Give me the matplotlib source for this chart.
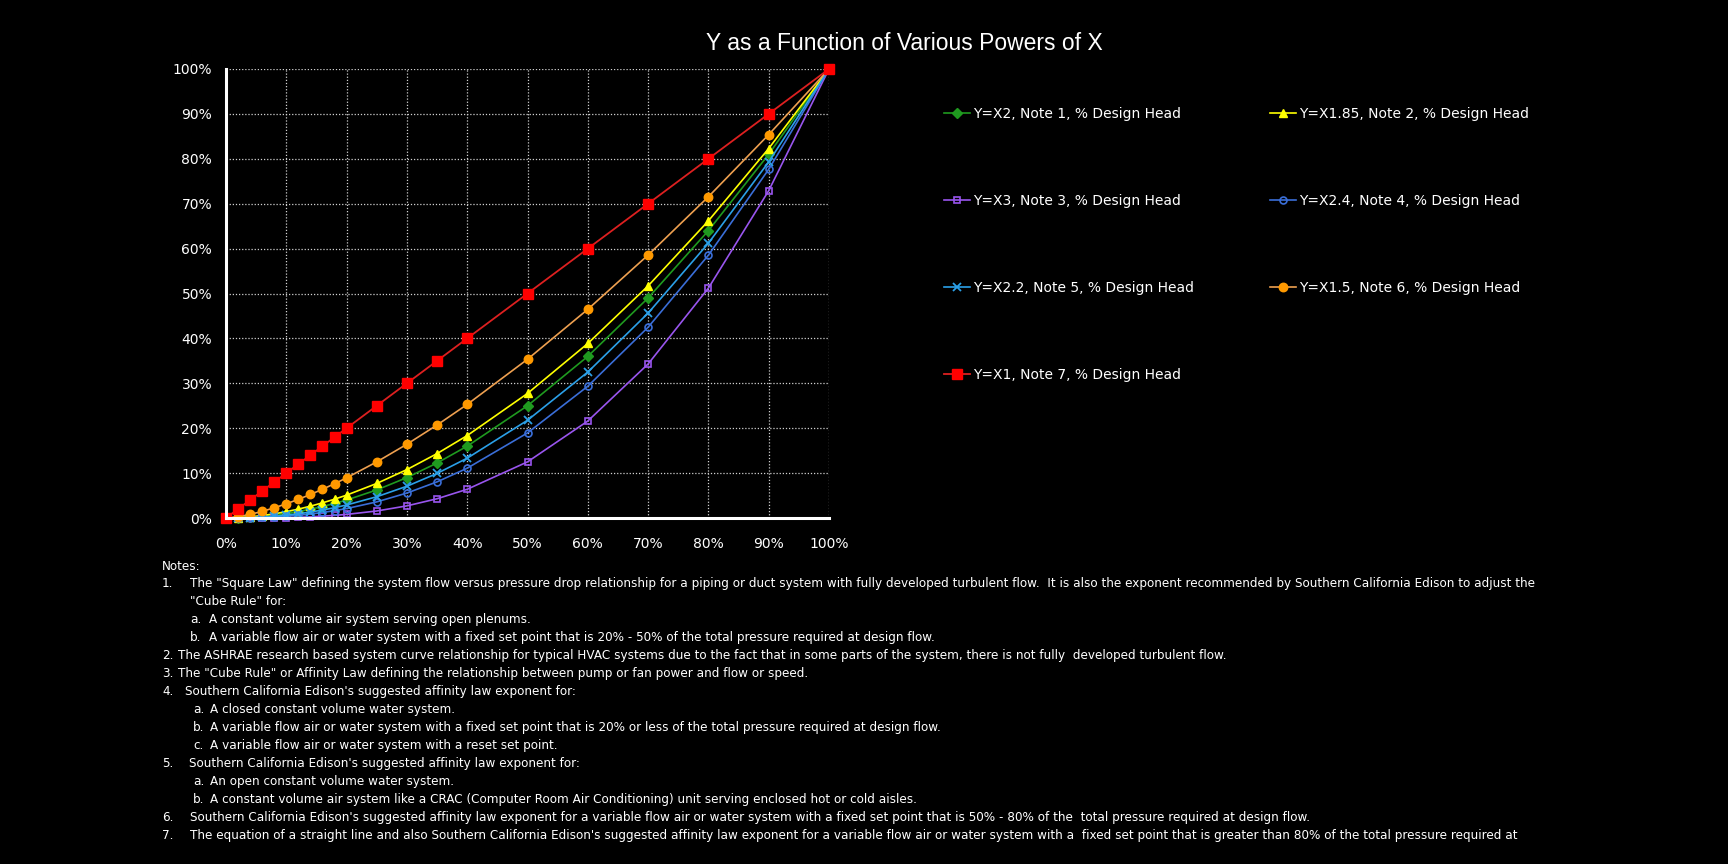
import matplotlib
matplotlib.use("Agg")
import matplotlib.pyplot as plt
from matplotlib.ticker import PercentFormatter

# ---------------- data ----------------
flow = [0.00, 0.02, 0.04, 0.06, 0.08, 0.10, 0.12, 0.14, 0.16, 0.18, 0.20,
        0.25, 0.30, 0.35, 0.40, 0.50, 0.60, 0.70, 0.80, 0.90, 1.00]

y_x2 = [0.0, 0.0004, 0.0016, 0.0036, 0.0064, 0.0100, 0.0144, 0.0196, 0.0256, 0.0324, 0.0400,
        0.0625, 0.0900, 0.1225, 0.1600, 0.2500, 0.3600, 0.4900, 0.6400, 0.8100, 1.0]
y_x185 = [0.0, 0.00072, 0.00259, 0.00549, 0.00935, 0.01413, 0.01979, 0.02632, 0.03370, 0.04190, 0.05092,
          0.07694, 0.10782, 0.14342, 0.18358, 0.27738, 0.38868, 0.51692, 0.66182, 0.82290, 1.0]
y_x3 = [0.0, 0.000008, 0.000064, 0.000216, 0.000512, 0.001, 0.001728, 0.002744, 0.004096, 0.005832, 0.008,
        0.015625, 0.027, 0.042875, 0.064, 0.125, 0.216, 0.343, 0.512, 0.729, 1.0]
y_x24 = [0.0, 0.0000837, 0.000442, 0.001169, 0.002331, 0.003981, 0.006165, 0.008929, 0.012299, 0.016318, 0.021012,
         0.035897, 0.05561, 0.08049, 0.11090, 0.18946, 0.29346, 0.42486, 0.58535, 0.77656, 1.0]
y_x22 = [0.0, 0.000183, 0.000840, 0.002050, 0.003861, 0.006310, 0.009423, 0.013230, 0.017746, 0.02299, 0.02899,
         0.04737, 0.07074, 0.09929, 0.13320, 0.21764, 0.32503, 0.45625, 0.61207, 0.79310, 1.0]
y_x15 = [0.0, 0.002828, 0.008, 0.014697, 0.022627, 0.031623, 0.041569, 0.052383, 0.064, 0.076368, 0.089443,
         0.125, 0.164317, 0.207063, 0.252982, 0.353553, 0.464758, 0.585662, 0.715542, 0.853815, 1.0]
y_x1 = [0.00, 0.02, 0.04, 0.06, 0.08, 0.10, 0.12, 0.14, 0.16, 0.18, 0.20,
        0.25, 0.30, 0.35, 0.40, 0.50, 0.60, 0.70, 0.80, 0.90, 1.00]

labels = ["Y=X2, Note 1, % Design Head",
          "Y=X1.85, Note 2, % Design Head",
          "Y=X3, Note 3, % Design Head",
          "Y=X2.4, Note 4, % Design Head",
          "Y=X2.2, Note 5, % Design Head",
          "Y=X1.5, Note 6, % Design Head",
          "Y=X1, Note 7, % Design Head"]

title = "Y as a Function of Various Powers of X"
tick_vals = [0.0, 0.1, 0.2, 0.3, 0.4, 0.5, 0.6, 0.7, 0.8, 0.9, 1.0]

notes = [
    ("", "Notes:", 162, None),
    ("1.", 'The "Square Law" defining the system flow versus pressure drop relationship for a piping or duct system with fully developed turbulent flow.  It is also the exponent recommended by Southern California Edison to adjust the', 162, 190),
    ("", '"Cube Rule" for:', None, 190),
    ("a.", "A constant volume air system serving open plenums.", 190, 209),
    ("b.", "A variable flow air or water system with a fixed set point that is 20% - 50% of the total pressure required at design flow.", 190, 209),
    ("2.", "The ASHRAE research based system curve relationship for typical HVAC systems due to the fact that in some parts of the system, there is not fully  developed turbulent flow.", 162, 178),
    ("3.", 'The "Cube Rule" or Affinity Law defining the relationship between pump or fan power and flow or speed.', 162, 178),
    ("4.", "Southern California Edison's suggested affinity law exponent for:", 162, 185),
    ("a.", "A closed constant volume water system.", 193, 210),
    ("b.", "A variable flow air or water system with a fixed set point that is 20% or less of the total pressure required at design flow.", 193, 210),
    ("c.", "A variable flow air or water system with a reset set point.", 193, 210),
    ("5.", "Southern California Edison's suggested affinity law exponent for:", 162, 189),
    ("a.", "An open constant volume water system.", 193, 210),
    ("b.", "A constant volume air system like a CRAC (Computer Room Air Conditioning) unit serving enclosed hot or cold aisles.", 193, 210),
    ("6.", "Southern California Edison's suggested affinity law exponent for a variable flow air or water system with a fixed set point that is 50% - 80% of the  total pressure required at design flow.", 162, 190),
    ("7.", "The equation of a straight line and also Southern California Edison's suggested affinity law exponent for a variable flow air or water system with a  fixed set point that is greater than 80% of the total pressure required at", 162, 190),
]

# ---------------- figure ----------------
W, H = 1728, 864
plt.rcParams["font.family"] = ["DejaVu Sans"]
fig = plt.figure(figsize=(W / 100, H / 100), dpi=100, facecolor="black")

L, R, T, B = 226, 829, 69, 518
ax = fig.add_axes([L / W, 1 - B / H, (R - L) / W, (B - T) / H], facecolor="black")
ax.set_xlim(0, 1)
ax.set_ylim(0, 1)
ax.set_xticks(tick_vals)
ax.set_yticks(tick_vals)
ax.xaxis.set_major_formatter(PercentFormatter(1.0, decimals=0))
ax.yaxis.set_major_formatter(PercentFormatter(1.0, decimals=0))
ax.tick_params(axis="both", length=0, colors="white", labelsize=10)
ax.tick_params(axis="y", pad=10)
ax.tick_params(axis="x", pad=14)
ax.grid(True, color="#d0d0d0", linestyle=(0, (1, 1.5)), linewidth=0.9)
ax.set_axisbelow(True)
for s in ("top", "right"):
    ax.spines[s].set_visible(False)
for s in ("left", "bottom"):
    ax.spines[s].set_color("white")
    ax.spines[s].set_linewidth(2.2)
    ax.spines[s].set_zorder(5)

ms = 4.8
h_x2, = ax.plot(flow, y_x2, color="#1f9a1f", marker="D", ms=ms - 0.2, mfc="#1f9a1f", mec="#1f9a1f", lw=1.2, clip_on=False, zorder=3)
h_x185, = ax.plot(flow, y_x185, color="#ffff00", marker="^", ms=ms + 1.2, mfc="#ffff00", mec="#ffff00", lw=1.2, clip_on=False, zorder=3)
h_x3, = ax.plot(flow, y_x3, color="#9955ee", marker="s", ms=ms + 0.2, mfc="none", mec="#9955ee", mew=1.2, lw=1.2, clip_on=False, zorder=3)
h_x24, = ax.plot(flow, y_x24, color="#3a6ed8", marker="o", ms=ms + 0.2, mfc="none", mec="#3a6ed8", mew=1.2, lw=1.2, clip_on=False, zorder=3)
h_x22, = ax.plot(flow, y_x22, color="#2ba0e8", marker="x", ms=ms + 0.6, mec="#2ba0e8", mew=1.3, lw=1.2, clip_on=False, zorder=3)
h_x15, = ax.plot(flow, y_x15, color="#eea050", marker="o", ms=ms + 1.3, mfc="#ff9900", mec="#ff9900", lw=1.2, clip_on=False, zorder=3)
h_x1, = ax.plot(flow, y_x1, color="#dd2020", marker="s", ms=ms + 1.9, mfc="#ff0000", mec="#ff0000", lw=1.3, clip_on=False, zorder=4)

fig.text(904 / W, 1 - 44 / H, title, ha="center", va="center", color="white",
         fontsize=16.5, family=["Liberation Sans", "DejaVu Sans"])

leg_kw = dict(frameon=False, fontsize=10, labelcolor="white", handlelength=1.9,
              handletextpad=0.2, borderpad=0, borderaxespad=0, labelspacing=5.27)
fig.legend([h_x2, h_x3, h_x22, h_x1], [labels[0], labels[2], labels[4], labels[6]],
           loc="center left", bbox_to_anchor=(944 / W, 1 - 244.5 / H), **leg_kw)
fig.legend([h_x185, h_x24, h_x15], [labels[1], labels[3], labels[5]],
           loc="center left", bbox_to_anchor=(1270 / W, 1 - 201 / H), **leg_kw)

fs_notes = 8.62
y0, pitch = 566, 17.95
for i, (num, txt, xn, xt) in enumerate(notes):
    yy = 1 - (y0 + i * pitch) / H
    if xt is None:
        fig.text(xn / W, yy, txt, ha="left", va="center", color="white", fontsize=fs_notes)
        continue
    if num:
        fig.text(xn / W, yy, num, ha="left", va="center", color="white", fontsize=fs_notes)
    fig.text(xt / W, yy, txt, ha="left", va="center", color="white", fontsize=fs_notes)

fig.savefig("out.png", dpi=100, facecolor="black")
